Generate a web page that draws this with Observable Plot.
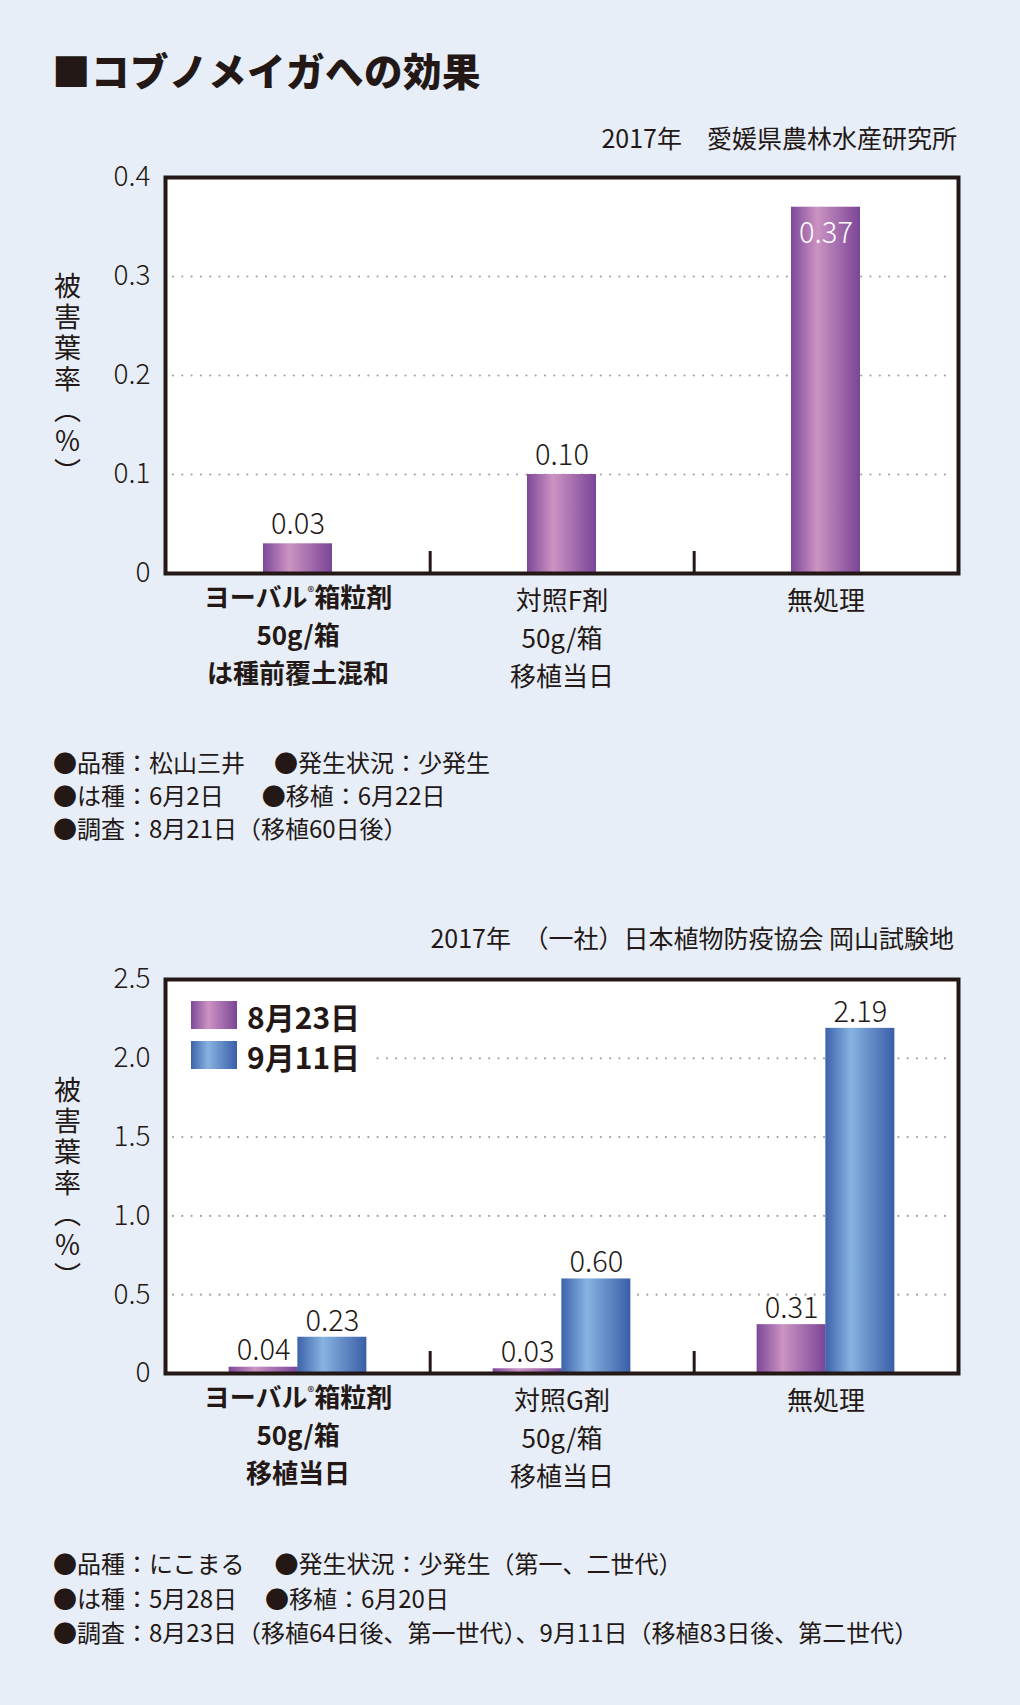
<!DOCTYPE html>
<html><head><meta charset="utf-8">
<script src="https://cdn.jsdelivr.net/npm/d3@7"></script>
<script src="https://cdn.jsdelivr.net/npm/@observablehq/plot@0.6"></script>
<style>
body{margin:0;background:#e7eef8;}
#page{position:relative;width:1020px;height:1705px;background:#e7eef8;overflow:hidden;font-family:"Noto Sans CJK JP","Noto Sans",sans-serif;color:#231815;}
.abs{position:absolute;white-space:nowrap;}
.chart{position:absolute;left:0;}
.note{position:absolute;left:53px;font-size:24px;line-height:1;white-space:nowrap;}
.note span{display:inline-block;}
.ylab{position:absolute;writing-mode:vertical-rl;font-size:27px;letter-spacing:4px;line-height:1;}
.sw{position:absolute;width:46px;height:28px;}
.legtxt{position:absolute;font-size:30px;font-weight:700;line-height:1;}
</style></head><body><div id="page"></div>
<script>
// ---------- data ----------
const title = "■コブノメイガへの効果";
const source1 = "2017年　愛媛県農林水産研究所";
const source2 = "2017年　（一社）日本植物防疫協会 岡山試験地";
const yLabel = "被害葉率（％）";

const categories1 = ["ヨーバル®箱粒剤\n50g/箱\nは種前覆土混和", "対照F剤\n50g/箱\n移植当日", "無処理"];
const values1 = [0.03, 0.10, 0.37];
const yTicks1 = [0, 0.1, 0.2, 0.3, 0.4];

const categories2 = ["ヨーバル®箱粒剤\n50g/箱\n移植当日", "対照G剤\n50g/箱\n移植当日", "無処理"];
const series2 = ["8月23日", "9月11日"];
const valuesAug23 = [0.04, 0.03, 0.31];
const valuesSep11 = [0.23, 0.60, 2.19];
const yTicks2 = [0, 0.5, 1.0, 1.5, 2.0, 2.5];

const notes1 = [["●品種：松山三井", "●発生状況：少発生"], ["●は種：6月2日", "●移植：6月22日"], ["●調査：8月21日（移植60日後）"]];
const notes2 = [["●品種：にこまる", "●発生状況：少発生（第一、二世代）"], ["●は種：5月28日", "●移植：6月20日"], ["●調査：8月23日（移植64日後、第一世代）、9月11日（移植83日後、第二世代）"]];

// ---------- layout / style ----------
const ink = "#231815";
const jp = "'Noto Sans CJK JP','Noto Sans',sans-serif";
const W = 1020, H = 550, ML = 165, MR = 62;
const PI = 0.74, PO = 0.37;
const step = (W - ML - MR) / (3 - PI + 2 * PO);
const bw = step * (1 - PI);
const fmt2 = d3.format(".2f");

const page = document.getElementById("page");
function addDiv(cls, text, css) {
  const d = document.createElement("div");
  d.className = cls;
  d.textContent = text;
  Object.assign(d.style, css);
  page.appendChild(d);
  return d;
}

const gradDefs = `<defs>
<linearGradient id="gpur" x1="0" x2="1" y1="0" y2="0">
<stop offset="0" stop-color="#7d4899"/><stop offset="0.38" stop-color="#cc93c2"/><stop offset="1" stop-color="#7a4597"/>
</linearGradient>
<linearGradient id="gblu" x1="0" x2="1" y1="0" y2="0">
<stop offset="0" stop-color="#3d62ab"/><stop offset="0.37" stop-color="#87b3e1"/><stop offset="1" stop-color="#3a5ea7"/>
</linearGradient></defs>`;

function fixRegistered(svg) {
  const ns = "http://www.w3.org/2000/svg";
  svg.querySelectorAll("tspan, text").forEach(el => {
    if (el.childNodes.length === 1 && el.firstChild.nodeType === 3 && el.textContent.includes("®")) {
      const [a, b] = el.textContent.split("®");
      el.textContent = a;
      const r = document.createElementNS(ns, "tspan");
      r.setAttribute("font-size", "14");
      r.setAttribute("dy", "-10");
      r.setAttribute("font-weight", "400");
      r.textContent = "®";
      const rest = document.createElementNS(ns, "tspan");
      rest.setAttribute("dy", "10");
      rest.textContent = b;
      el.appendChild(r);
      el.appendChild(rest);
    }
  });
}

function chart({cats, bars, yMax, ticks, tickFmt, mt, labelDy, insideMin}) {
  const MB = 127;
  const frameH = H - mt - MB;
  const marks = [
    Plot.frame({fill: "white"}),
    Plot.ruleY(ticks.filter(t => t > 0 && t < yMax), {stroke: "#a0a0a0", strokeWidth: 2.2, strokeDasharray: "0,9.3", strokeLinecap: "round", insetLeft: 8, insetRight: 6})
  ];
  for (const b of bars) {
    marks.push(Plot.barY(b.data, {x: "cat", y: "value", fill: b.fill, dx: b.dx}));
    marks.push(Plot.text(b.data, {filter: d => !(d.value >= insideMin), x: "cat", y: "value", text: d => fmt2(d.value), dx: b.dx, dy: labelDy, fill: ink, fontSize: 29, fontWeight: 300}));
    marks.push(Plot.text(b.data, {filter: d => d.value >= insideMin, x: "cat", y: "value", text: d => fmt2(d.value), dx: b.dx, dy: 27, fill: "white", fontSize: 29, fontWeight: 300}));
  }
  marks.push(
    Plot.ruleX(cats.slice(0, 2), {x: d => d, dx: step / 2, insetTop: frameH - 22, stroke: ink, strokeWidth: 3}),
    Plot.frame({stroke: ink, strokeWidth: 4})
  );
  // category labels: one text per line so that lines do not collide
  const rows = cats.flatMap((c, i) => c.split("\n").map((t, k) => ({cat: c, text: t, k, bold: i === 0})));
  for (let k = 0; k < 3; k++) {
    for (const bold of [true, false]) {
      marks.push(Plot.text(rows.filter(r => r.k === k && r.bold === bold), {
        x: "cat", text: "text", frameAnchor: "bottom", lineAnchor: "middle",
        dy: (bold ? 25 : 28) + k * 38, fontSize: 26, fontWeight: bold ? 700 : 400, fill: ink, fontFamily: jp
      }));
    }
  }
  const svg = Plot.plot({
    width: W, height: H, marginLeft: ML, marginRight: MR, marginTop: mt, marginBottom: MB,
    style: {background: "transparent", fontFamily: jp, fontSize: "28px", color: ink, overflow: "visible", fontWeight: 300},
    x: {domain: cats, paddingInner: PI, paddingOuter: PO, axis: null},
    y: {domain: [0, yMax], ticks, tickSize: 0, tickPadding: 15, tickFormat: tickFmt, label: null},
    marks
  });
  svg.insertAdjacentHTML("afterbegin", gradDefs);
  fixRegistered(svg);
  return svg;
}

// ---------- header ----------
addDiv("abs", title, {left: "52px", top: "50px", fontSize: "38.5px", fontWeight: "900", lineHeight: "1", letterSpacing: "0.5px"});
addDiv("abs", source1, {right: "63px", top: "125px", fontSize: "25px", lineHeight: "1"});

// ---------- chart 1 ----------
const data1 = categories1.map((c, i) => ({cat: c, value: values1[i]}));
const svg1 = chart({
  cats: categories1,
  bars: [{data: data1, fill: "url(#gpur)", dx: 0}],
  yMax: 0.4, ticks: yTicks1,
  tickFmt: d => d === 0 ? "0" : d3.format(".1f")(d),
  mt: 27, labelDy: -19, insideMin: 0.3
});
svg1.classList.add("chart");
svg1.style.top = "150px";
page.appendChild(svg1);
addDiv("ylab", yLabel, {left: "54px", top: "272px"});

notes1.forEach((line, i) => {
  const d = document.createElement("div");
  d.className = "note";
  d.style.top = (750 + i * 33) + "px";
  line.forEach((t, j) => {
    const s = document.createElement("span");
    s.textContent = t;
    if (j > 0) s.style.marginLeft = (i === 0 ? 29 : 38) + "px";
    d.appendChild(s);
  });
  page.appendChild(d);
});

// ---------- chart 2 ----------
addDiv("abs", source2, {right: "66px", top: "925px", fontSize: "25px", lineHeight: "1"});
const dataA = categories2.map((c, i) => ({cat: c, series: series2[0], value: valuesAug23[i]}));
const dataB = categories2.map((c, i) => ({cat: c, series: series2[1], value: valuesSep11[i]}));
const svg2 = chart({
  cats: categories2,
  bars: [{data: dataA, fill: "url(#gpur)", dx: -bw / 2}, {data: dataB, fill: "url(#gblu)", dx: bw / 2}],
  yMax: 2.5, ticks: yTicks2,
  tickFmt: d => d === 0 ? "0" : d3.format(".1f")(d),
  mt: 29, labelDy: -16, insideMin: Infinity
});
svg2.classList.add("chart");
svg2.style.top = "950px";
page.appendChild(svg2);
addDiv("ylab", yLabel, {left: "54px", top: "1076px"});

// legend (inside plot frame)
addDiv("abs", "", {left: "172px", top: "994px", width: "204px", height: "82px", background: "white"});
const legendFills = ["linear-gradient(90deg,#7d4899 0%,#cc93c2 38%,#7a4597 100%)", "linear-gradient(90deg,#3d62ab 0%,#87b3e1 37%,#3a5ea7 100%)"];
series2.forEach((s, i) => {
  addDiv("sw", "", {left: "191px", top: (1001 + i * 40) + "px", background: legendFills[i]});
  addDiv("legtxt", s, {left: "247px", top: (1001 + i * 40) + "px"});
});

notes2.forEach((line, i) => {
  const d = document.createElement("div");
  d.className = "note";
  d.style.top = (1551 + i * 34.5) + "px";
  line.forEach((t, j) => {
    const s = document.createElement("span");
    s.textContent = t;
    if (j > 0) s.style.marginLeft = (i === 0 ? 30 : 28) + "px";
    d.appendChild(s);
  });
  page.appendChild(d);
});
</script></body></html>
